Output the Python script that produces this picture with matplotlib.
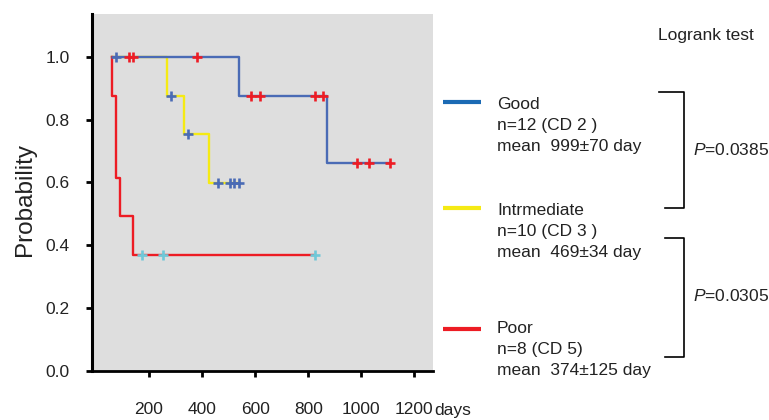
import matplotlib.pyplot as plt

plt.rcParams["font.family"] = ["Liberation Sans", "DejaVu Sans"]
plt.rcParams["mathtext.fontset"] = "custom"
plt.rcParams["mathtext.rm"] = "Liberation Sans"
plt.rcParams["mathtext.it"] = "Liberation Sans:italic"

# Kaplan-Meier curves (days / survival probability)
good_start = 61
good_events = [540, 872]
good_surv = [0.875, 0.661]
good_censored = [125, 141, 382, 584, 618, 826, 856, 985, 1030, 1109]

mid_start = 61
mid_events = [269, 333, 427]
mid_surv = [0.875, 0.754, 0.598]
mid_censored = [76, 284, 347, 461, 506, 521, 540]

poor_start = 59
poor_events = [59, 74, 89, 141]
poor_surv = [0.875, 0.615, 0.494, 0.368]
poor_censored = [174, 254, 826]

legend_text = [
    ["Good", "n=12 (CD 2 )", "mean  999\u00b170 day"],
    ["Intrmediate", "n=10 (CD 3 )", "mean  469\u00b134 day"],
    ["Poor", "n=8 (CD 5)", "mean  374\u00b1125 day"],
]
p_values = ["0.0385", "0.0305"]
x_ticks = [200, 400, 600, 800, 1000, 1200]
y_ticks = [0.0, 0.2, 0.4, 0.6, 0.8, 1.0]

BLUE = "#4a6bb5"
YELLOW = "#f5ea14"
RED = "#ed1c24"
CYAN = "#6fc8d8"
LEGEND_BLUE = "#1b6ab4"
TEXT = "#222222"


def km_path(start, events, surv, censored):
    end = max(events + censored)
    xs = [start] + events + [end]
    ys = [1.0] + surv + [surv[-1]]
    return xs, ys


def surv_at(t, events, surv):
    value = 1.0
    for e, s in zip(events, surv):
        if e <= t:
            value = s
    return value


fig = plt.figure(figsize=(7.69, 4.2), dpi=100)
ax = fig.add_axes([92 / 769, 1 - 371 / 420, 341 / 769, 356.7 / 420])
ax.set_facecolor("#dedede")

curves = [
    (mid_start, mid_events, mid_surv, mid_censored, YELLOW, BLUE),
    (good_start, good_events, good_surv, good_censored, BLUE, RED),
    (poor_start, poor_events, poor_surv, poor_censored, RED, CYAN),
]
for start, events, surv, censored, line_col, mark_col in curves:
    xs, ys = km_path(start, events, surv, censored)
    ax.step(xs, ys, where="post", color=line_col, lw=1.7, zorder=2)

for start, events, surv, censored, line_col, mark_col in curves:
    cy = [surv_at(t, events, surv) for t in censored]
    ax.plot(censored, cy, ls="none", marker="+", ms=7, mew=1.9,
            color=mark_col, zorder=3)

ax.set_xlim(-15, 1270)
ax.set_ylim(0, 1.135)
ax.set_xticks(x_ticks)
ax.set_xticklabels([str(v) for v in x_ticks])
ax.set_yticks(y_ticks)
ax.set_yticklabels([f"{v:.1f}" for v in y_ticks])

for side in ["top", "right"]:
    ax.spines[side].set_visible(False)
ax.spines["left"].set_linewidth(2.2)
ax.spines["bottom"].set_linewidth(2)
ax.tick_params(axis="both", length=4, width=2, labelsize=12.5, labelcolor=TEXT)
ax.tick_params(axis="y", pad=12)
ax.tick_params(axis="x", pad=18)

# annotation layer in pixel coordinates
ann = fig.add_axes([0, 0, 1, 1])
ann.set_xlim(0, 769)
ann.set_ylim(420, 0)
ann.axis("off")

ann.text(25, 199, "Probability", rotation=90, ha="center", va="center",
         fontsize=17.5, color=TEXT)
ann.text(434, 415, "days", ha="left", va="baseline", fontsize=12.5, color=TEXT)
ann.text(658, 40, "Logrank test", ha="left", va="baseline", fontsize=12.5, color=TEXT)

legend_cols = [LEGEND_BLUE, YELLOW, RED]
legend_line_y = [102.3, 207.7, 329]
legend_base_y = [109.3, 215, 333.3]
for lines, col, ly, by in zip(legend_text, legend_cols, legend_line_y, legend_base_y):
    ann.plot([443, 481], [ly, ly], color=col, lw=3, solid_capstyle="butt")
    for i, s in enumerate(lines):
        ann.text(497, by + i * 21, s, ha="left", va="baseline", fontsize=12.5, color=TEXT)

# brackets for the logrank comparisons
ann.plot([659, 684, 684, 665], [91.7, 91.7, 207.7, 207.7], color="black", lw=1.2)
ann.plot([665, 684, 684, 665], [238.3, 238.3, 356.7, 356.7], color="black", lw=1.2)
ann.text(693, 150, f"$P$={p_values[0]}", ha="left", va="center", fontsize=12.5, color=TEXT)
ann.text(693, 296, f"$P$={p_values[1]}", ha="left", va="center", fontsize=12.5, color=TEXT)

fig.savefig("out.png", dpi=100)
